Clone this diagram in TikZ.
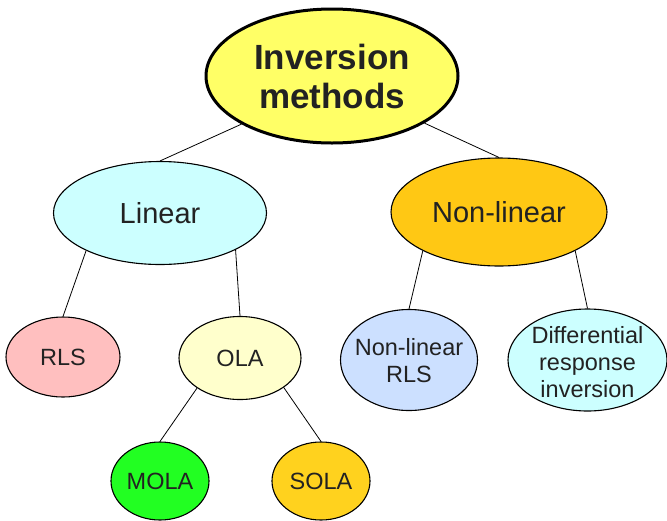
\documentclass[tikz,border=0pt]{standalone}
\usepackage{fontspec}
\setmainfont{Liberation Sans}
\usetikzlibrary{shapes.geometric}
\definecolor{topfill}{HTML}{FFFF66}
\definecolor{cyanfill}{HTML}{CCFFFF}
\definecolor{orangefill}{HTML}{FFC814}
\definecolor{pinkfill}{HTML}{FFBFBF}
\definecolor{olafill}{HTML}{FFFFCC}
\definecolor{bluefill}{HTML}{CCE0FF}
\definecolor{greenfill}{HTML}{22FF22}
\definecolor{solafill}{HTML}{FFD21E}
\definecolor{txt}{HTML}{222222}
\tikzset{
  el/.style={ellipse, draw=black, line width=1.1pt, inner sep=0pt},
  topel/.style={el, line width=3pt},
  lbl/.style={inner sep=0pt, align=center, text=txt},
  midtxt/.style={lbl, font=\fontsize{29}{33}\selectfont},
  lowtxt/.style={lbl, font=\fontsize{23.5}{27}\selectfont},
  toptxt/.style={lbl, font=\fontsize{35}{39}\selectfont\bfseries},
  conn/.style={draw=black, line width=0.8pt}
}
\begin{document}
\begin{tikzpicture}[x=1pt,y=-1pt]
\useasboundingbox (0,0) rectangle (667,520);
% ellipses
\node[topel, fill=topfill, minimum width=252pt, minimum height=134pt] (top) at (332,76) {};
\node[el, fill=cyanfill, minimum width=213pt, minimum height=103pt] (lin) at (160,213) {};
\node[el, fill=orangefill, minimum width=216pt, minimum height=108pt] (nonlin) at (499,212) {};
\node[el, fill=pinkfill, minimum width=114pt, minimum height=80pt] (rls) at (63,357) {};
\node[el, fill=olafill, minimum width=122pt, minimum height=83pt] (ola) at (240,358) {};
\node[el, fill=bluefill, minimum width=137pt, minimum height=101pt] (nlrls) at (409,360) {};
\node[el, fill=cyanfill, minimum width=159pt, minimum height=102pt] (diff) at (587.5,360) {};
\node[el, fill=greenfill, minimum width=98pt, minimum height=78pt] (mola) at (160,481) {};
\node[el, fill=solafill, minimum width=98pt, minimum height=78pt] (sola) at (321,481) {};
% texts
\node[toptxt] (topt) at (top) {Inversion\\methods};
\node[midtxt] (lint) at (lin) {Linear};
\node[midtxt] (nonlint) at (nonlin) {Non-linear};
\node[lowtxt] (rlst) at (rls) {RLS};
\node[lowtxt] (olat) at (ola) {OLA};
\node[lowtxt] (nlrlst) at ([yshift=-1pt]nlrls.center) {Non-linear\\RLS};
\node[lowtxt] (difft) at ([yshift=-2pt]diff.center) {Differential\\response\\inversion};
\node[lowtxt] (molat) at (mola) {MOLA};
\node[lowtxt] (solat) at (sola) {SOLA};
% connectors
\draw[conn] (top.208) -- (lin.north);
\draw[conn] (top.333) -- (nonlin.north);
\draw[conn] (lin.207) -- (rls.north);
\draw[conn] (lin.334) -- (ola.north);
\draw[conn] (nonlin.207) -- (nlrls.north);
\draw[conn] (nonlin.333) -- (diff.north);
\draw[conn] (ola.215) -- (mola.north);
\draw[conn] (ola.326) -- (sola.north);
\end{tikzpicture}
\end{document}
